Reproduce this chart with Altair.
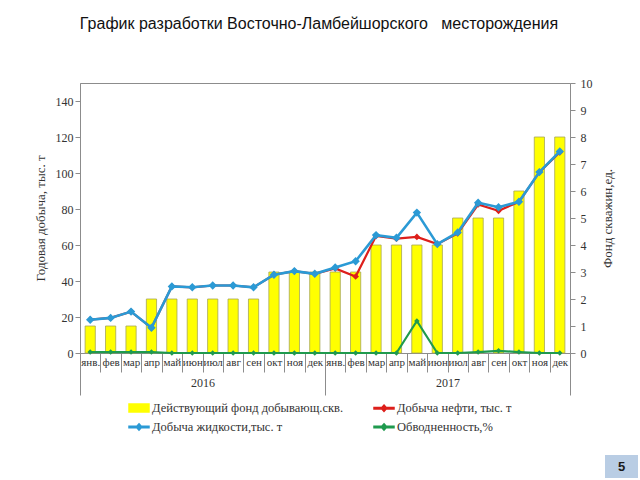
import altair as alt
import pandas as pd

months = ["янв.", "фев", "мар", "апр", "май", "июн", "июл", "авг", "сен", "окт", "ноя", "дек"]
years = ["2016", "2017"]

# Действующий фонд добывающих скважин (ед.), right axis
wells = [1, 1, 1, 2, 2, 2, 2, 2, 2, 3, 3, 3,
         3, 3, 4, 4, 4, 4, 5, 5, 5, 6, 8, 8]
# Добыча жидкости, тыс. т
liquid = [18.5, 19.5, 23, 14, 37, 36.5, 37.5, 37.5, 36.5, 43.5, 45.5, 44,
          47.5, 51, 65.5, 64, 78, 60.5, 67, 83.5, 81, 84, 100.5, 112]
# Добыча нефти, тыс. т
oil = [18.5, 19.5, 23, 14, 37, 36.5, 37.5, 37.5, 36.5, 43.5, 45.5, 44,
       47, 42.5, 65, 63.5, 64.5, 60.5, 66.5, 82.5, 79, 84, 100.5, 111.5]
# Обводненность, %
water = [0.5, 0.5, 0.5, 0.5, 0, 0, 0, 0, 0, 0, 0, 0,
         0, 0, 0, 0, 17.8, 0, 0, 0.5, 1.2, 0.5, 0, 0]

S_BAR = "Действующий фонд добывающ.скв."
S_OIL = "Добыча нефти, тыс. т"
S_LIQ = "Добыча жидкости,тыс. т"
S_WAT = "Обводненность,%"
series = [S_BAR, S_OIL, S_LIQ, S_WAT]
colors = ["#ffff00", "#dd1f1b", "#2b9ad5", "#1f9a4e"]
BAR_EDGE = "#a6a657"

n = len(wells)
idx = list(range(n))
df_bar = pd.DataFrame({"i": idx, "v": wells, "series": S_BAR})
df_oil = pd.DataFrame({"i": idx, "v": oil, "series": S_OIL})
df_liq = pd.DataFrame({"i": idx, "v": liquid, "series": S_LIQ})
df_wat = pd.DataFrame({"i": idx, "v": water, "series": S_WAT})

SERIF = "Liberation Serif"
SANS = "Liberation Sans"
GRAY = "#8c8c8c"
TXT = "#333333"

cs = alt.Scale(domain=series, range=colors)
xscale = alt.Scale(domain=[0, n], nice=False, zero=False)
yleft = alt.Scale(domain=[0, 150], nice=False)
yright = alt.Scale(domain=[0, 10], nice=False)

RECT_PATH = "M-1,-0.4L1,-0.4L1,0.4L-1,0.4Z"
LINE_PATH = "M-1,-0.07L1,-0.07L1,0.07L-1,0.07ZM0,-0.32L0.28,0L0,0.32L-0.28,0Z"

legend_base = dict(
    orient="none", legendX=48, legendY=314, columns=2, direction="horizontal",
    title=None, labelFont=SERIF, labelFontSize=12.5, labelColor=TXT, labelLimit=400,
    symbolSize=400, labelOffset=2, columnPadding=27, rowPadding=1,
    symbolOpacity=1,
)
legend_fancy = dict(
    legend_base,
    symbolType={"expr": f"datum.value === '{S_BAR}' ? '{RECT_PATH}' : '{LINE_PATH}'"},
    symbolStrokeColor={"expr": f"datum.value === '{S_BAR}' ? '{BAR_EDGE}' : scale('color', datum.value)"},
)
legend_plain = dict(legend_base, symbolType=RECT_PATH, symbolStrokeColor=BAR_EDGE)

month_js = "[" + ",".join(f"'{m}'" for m in months) + "]"
year_js = "[" + ",".join(f"'{y}'" for y in years) + "]"

x_month_axis = alt.Axis(
    values=list(range(n + 1)),
    labelExpr=f"datum.value < {n} ? {month_js}[datum.value % 12] : ''",
    labelOffset=10.2, labelFlush=False, labelOverlap=False,
    labelFont=SERIF, labelFontSize=11, labelColor=TXT,
    tickSize=19, labelPadding=-16, title=None, domainColor=GRAY, tickColor=GRAY,
)


def year_axis(tick):
    return alt.Axis(
        orient="bottom", values=list(range(0, n + 1, 6)),
        labelExpr=f"datum.value % 12 === 6 ? {year_js}[floor(datum.value / 12)] : ''",
        ticks=True, tickSize=tick, tickColor=GRAY, domain=False,
        labelPadding=24, labelFlush=False, labelOverlap=False,
        labelFont=SERIF, labelFontSize=12, labelColor=TXT, title=None,
    )


def build(tick, leg):
    legend = alt.Legend(**leg)
    bars = alt.Chart(df_bar).transform_calculate(
        x0="datum.i + 0.25", x1="datum.i + 0.75", z="0"
    ).mark_bar(stroke=BAR_EDGE, strokeWidth=0.8).encode(
        x=alt.X("x0:Q", scale=xscale, axis=x_month_axis),
        x2="x1:Q",
        y=alt.Y("v:Q", scale=yright, axis=alt.Axis(
            orient="right", values=list(range(11)), title="Фонд скважин,ед.",
            titleAngle=270, titlePadding=22, tickSize=5, labelPadding=5)),
        y2="z:Q",
        color=alt.Color("series:N", scale=cs, legend=legend),
    )

    def line_layer(df, size, width, axis_x, axis_y):
        return alt.Chart(df).transform_calculate(xc="datum.i + 0.5").mark_line(
            strokeWidth=width,
            point=alt.OverlayMarkDef(shape="diamond", filled=True, size=size, opacity=1),
        ).encode(
            x=alt.X("xc:Q", scale=xscale, axis=axis_x),
            y=alt.Y("v:Q", scale=yleft, axis=axis_y),
            color=alt.Color("series:N", scale=cs, legend=None),
        )

    red = line_layer(df_oil, 45, 2.2, None, None)
    blue = line_layer(df_liq, 70, 2.6, year_axis(tick), alt.Axis(
        orient="left", values=list(range(0, 141, 20)), title="Годовая добыча, тыс. т",
        titlePadding=8, tickSize=5))
    green = line_layer(df_wat, 30, 2.2, None, None)

    page_df = pd.DataFrame({"t": ["5"]})
    page_box = alt.Chart(page_df).mark_rect(fill="#b9cde4").encode(
        x=alt.value(525), x2=alt.value(558), y=alt.value(372), y2=alt.value(395))
    page_txt = alt.Chart(page_df).mark_text(
        font=SANS, fontSize=13, fontWeight="bold", color="#1a1a1a").encode(
        x=alt.value(541.5), y=alt.value(384), text="t:N")

    return alt.layer(bars, red, blue, green, page_box, page_txt).resolve_scale(
        y="independent"
    ).resolve_axis(
        x="independent", y="independent"
    ).properties(
        width=490, height=270, background="white",
        autosize=alt.AutoSizeParams(type="none"),
        padding={"left": 80, "top": 83, "right": 70, "bottom": 127},
        title=alt.TitleParams(
            "График разработки Восточно-Ламбейшорского\u00a0\u00a0 месторождения",
            font=SANS, fontSize=16, fontWeight="normal", color="#111",
            anchor="middle", dx=-6, dy=10, offset=39, baseline="bottom",
        ),
    ).configure_view(
        stroke=GRAY, strokeWidth=1
    ).configure_axis(
        grid=False, domainColor=GRAY, tickColor=GRAY,
        labelFont=SERIF, labelFontSize=12, labelColor=TXT,
        titleFont=SERIF, titleFontSize=13, titleFontWeight="normal", titleColor=TXT,
    )


chart = None
for tick in ({"condition": {"test": "datum.value % 12 === 0", "value": 42}, "value": 0}, 0):
    for leg in (legend_fancy, legend_plain):
        try:
            c = build(tick, leg)
            c.to_dict()
            chart = c
            break
        except Exception:
            continue
    if chart is not None:
        break

chart.save("out.html", embed_options={"renderer": "svg", "actions": False})
